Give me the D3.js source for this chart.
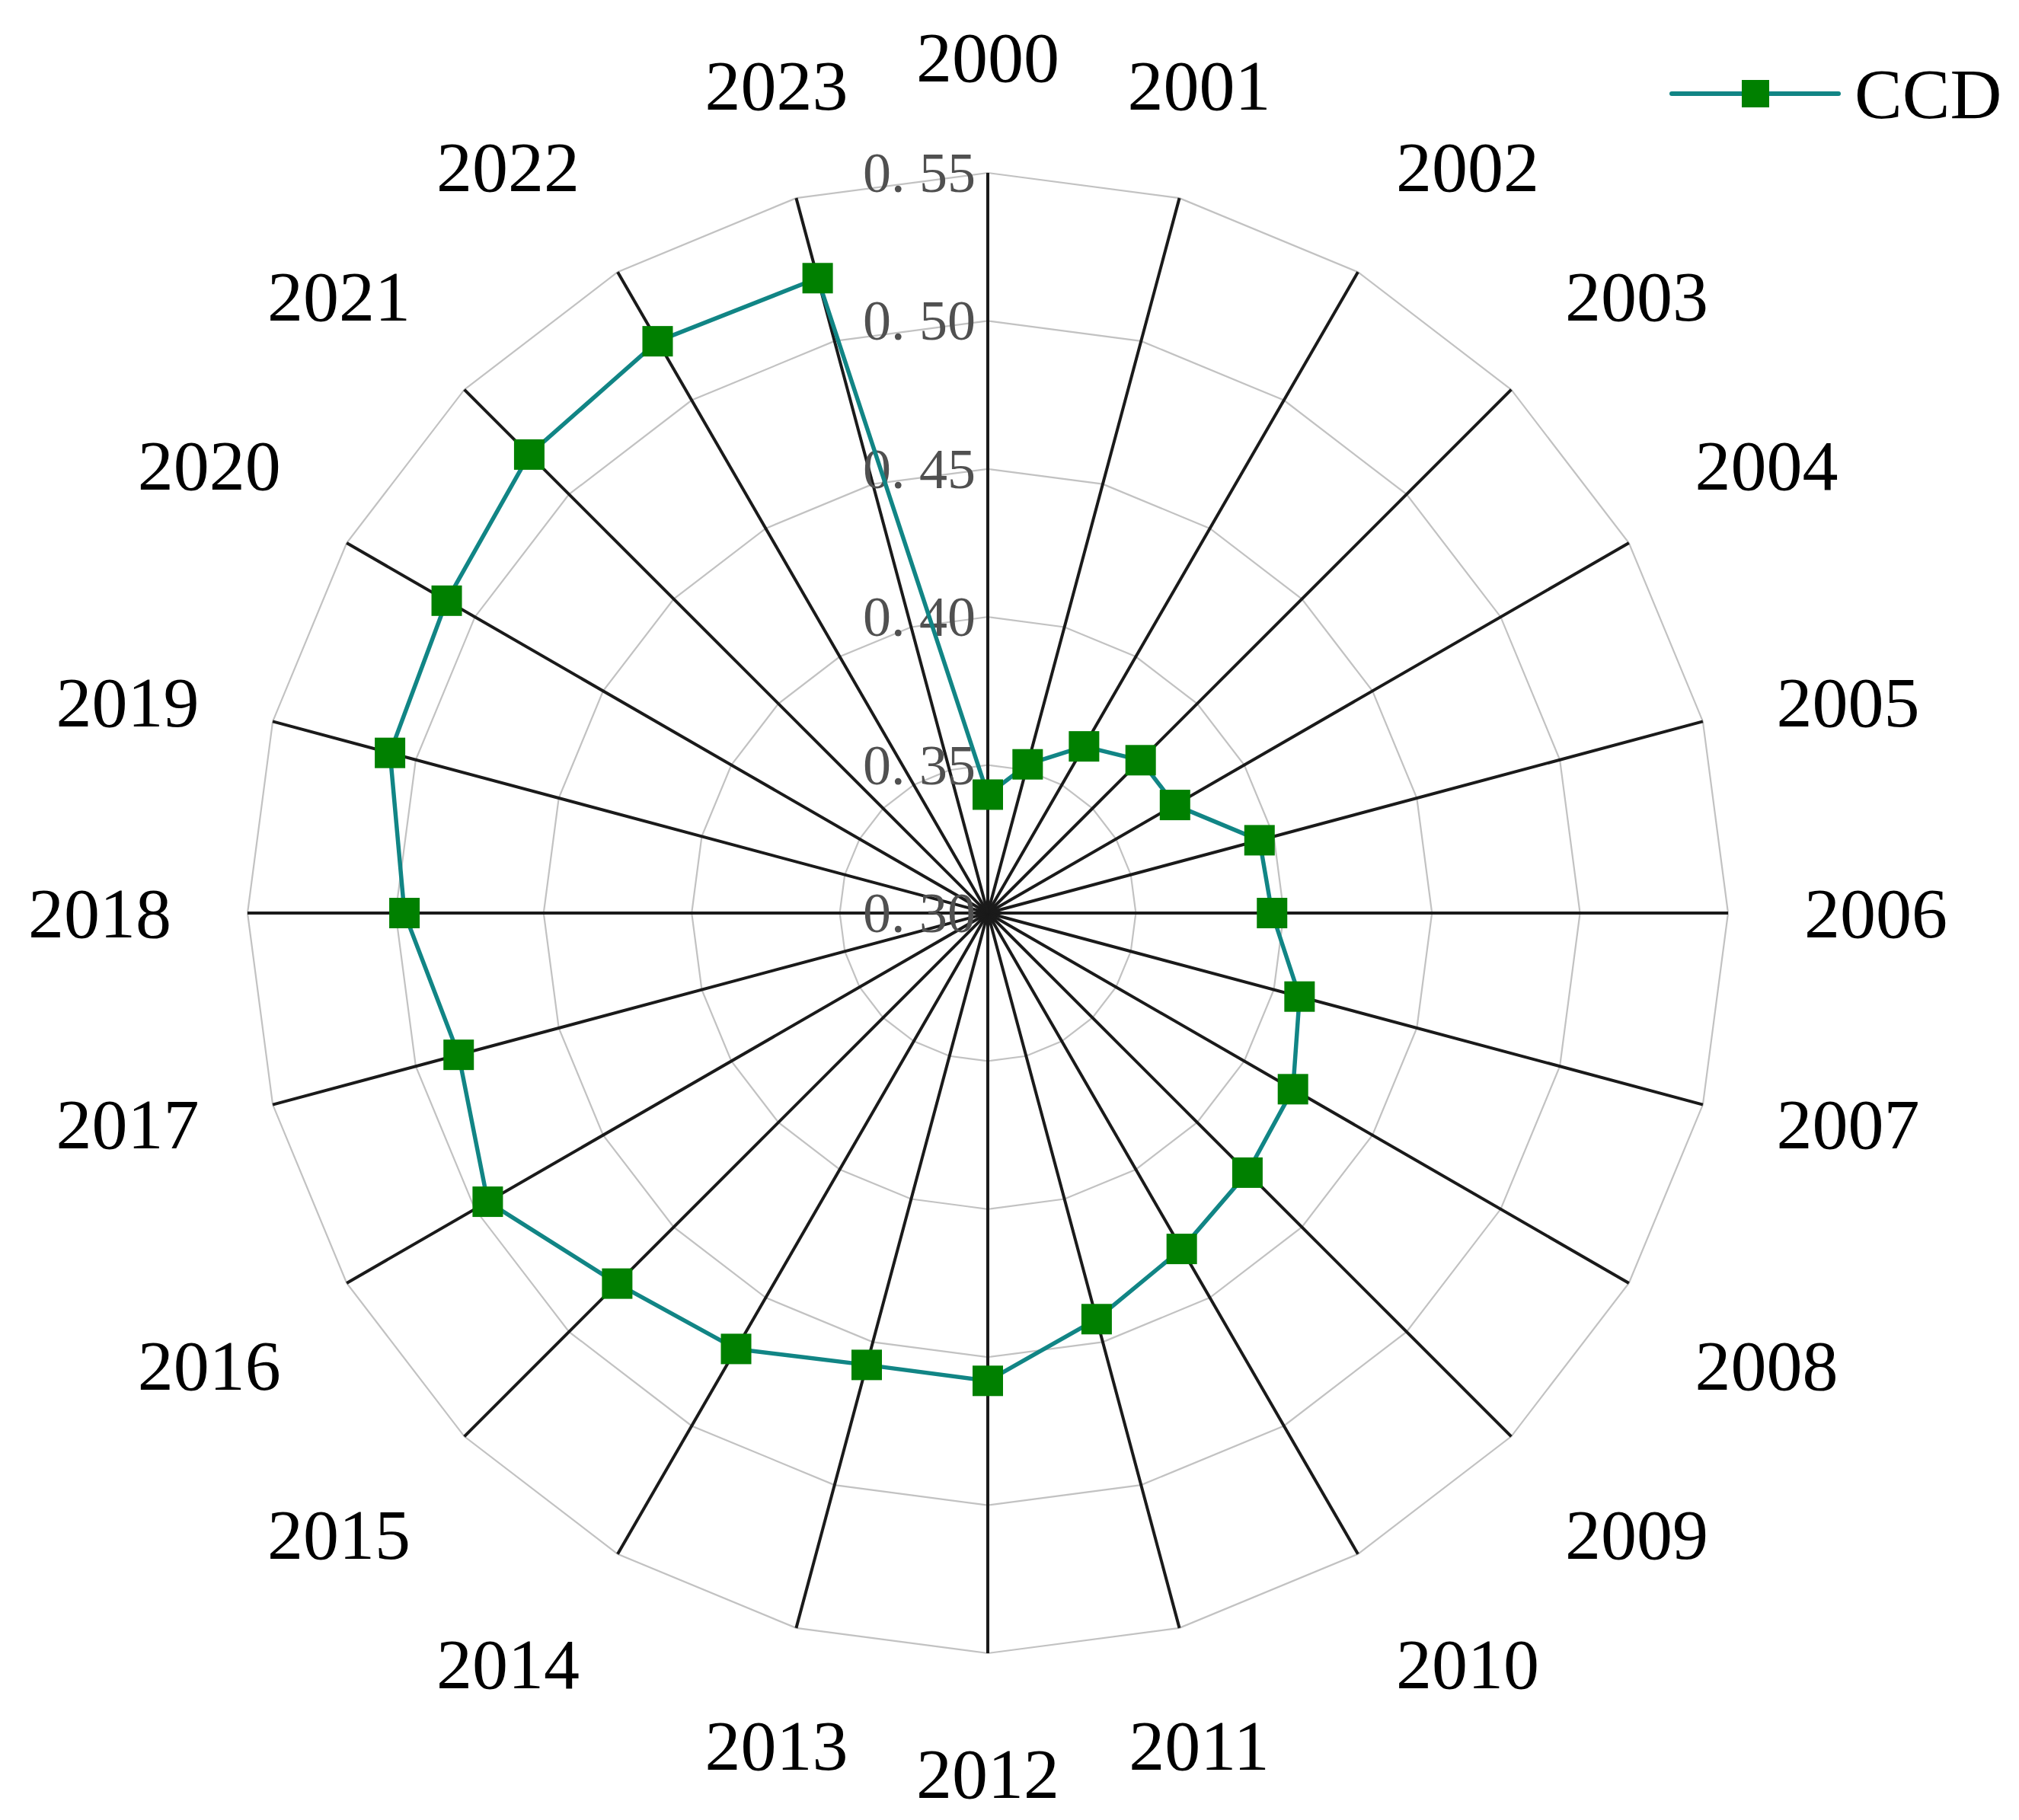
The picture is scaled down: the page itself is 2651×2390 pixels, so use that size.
<!DOCTYPE html>
<html>
<head>
<meta charset="utf-8">
<script src="https://cdn.jsdelivr.net/npm/d3@7"></script>
<style>
html,body{margin:0;padding:0;background:#fff;}
svg{display:block;}
</style>
</head>
<body>
<script>
const years = ["2000","2001","2002","2003","2004","2005","2006","2007","2008","2009","2010","2011","2012","2013","2014","2015","2016","2017","2018","2019","2020","2021","2022","2023"];
const ccd = [0.340,0.352,0.365,0.373,0.373,0.395,0.396,0.409,0.419,0.424,0.431,0.442,0.458,0.458,0.470,0.477,0.495,0.485,0.497,0.509,0.511,0.519,0.523,0.522];
const tickValues = [0.30,0.35,0.40,0.45,0.50,0.55];
const tickLabels = ["0. 30","0. 35","0. 40","0. 45","0. 50","0. 55"];
const seriesName = "CCD";

const W = 2651, H = 2390;
const cx = 1297, cy = 1199, R = 972;

const svg = d3.select("body").append("svg").attr("width", W).attr("height", H);
const g = svg.append("g").attr("transform", `translate(${cx},${cy})`);

const r = d3.scaleLinear().domain([0.30, 0.55]).range([0, R]);
const ang = d3.scaleLinear().domain([0, years.length]).range([0, 2*Math.PI]);
const px = (i, v) => r(v) * Math.sin(ang(i));
const py = (i, v) => -r(v) * Math.cos(ang(i));

// grid polygons
const gridLine = d3.lineRadial().angle((d,i)=>ang(i)).radius(d=>r(d)).curve(d3.curveLinearClosed);
tickValues.slice(1).forEach(t => {
  g.append("path").attr("d", gridLine(years.map(()=>t)))
    .attr("fill","none").attr("stroke","#c2c2c2").attr("stroke-width",2.2);
});

// spokes
g.selectAll("line.spoke").data(years).join("line").attr("class","spoke")
  .attr("x1",0).attr("y1",0)
  .attr("x2",(d,i)=>px(i,0.55)).attr("y2",(d,i)=>py(i,0.55))
  .attr("stroke","#1a1a1a").attr("stroke-width",4);

// tick labels
g.selectAll("text.tick").data(tickValues).join("text").attr("class","tick")
  .attr("x",-16).attr("y",d=>-r(d))
  .attr("text-anchor","end").attr("dominant-baseline","central")
  .attr("font-family","'Liberation Serif', serif").attr("font-size",74)
  .attr("fill","#505050").text((d,i)=>tickLabels[i]);

// series line
const line = d3.lineRadial().angle((d,i)=>ang(i)).radius(d=>r(d)).curve(d3.curveLinearClosed);
g.append("path").attr("d", line(ccd)).attr("fill","none")
  .attr("stroke","#118585").attr("stroke-width",5.5).attr("stroke-linejoin","round");

// markers
const ms = 40;
g.selectAll("rect.mk").data(ccd).join("rect").attr("class","mk")
  .attr("x",(d,i)=>px(i,d)-ms/2).attr("y",(d,i)=>py(i,d)-ms/2)
  .attr("width",ms).attr("height",ms).attr("fill","#008000");

// year labels: anchored at a circle outside the plot, aligned by direction
const fs = 94;
const Rl = 1072, halfH = 52;
function lx(i){ return Rl*Math.sin(ang(i)); }
function ly(i){
  const c = Math.cos(ang(i));
  if (c > 0.3) return -Rl*c - halfH;
  if (c < -0.3) return -Rl*c + halfH + 6;
  return -Rl*c;
}
function anchor(i){
  const s = Math.sin(ang(i));
  if (s > 0.3) return "start";
  if (s < -0.3) return "end";
  return "middle";
}
g.selectAll("text.yr").data(years).join("text").attr("class","yr")
  .attr("x",(d,i)=>lx(i))
  .attr("y",(d,i)=>ly(i))
  .attr("text-anchor",(d,i)=>anchor(i)).attr("dominant-baseline","central")
  .attr("font-family","'Liberation Serif', serif").attr("font-size",fs)
  .attr("fill","#000").text(d=>d);

// legend
const lg = svg.append("g").attr("transform","translate(2195,123)");
lg.append("line").attr("x1",0).attr("x2",219).attr("y1",0).attr("y2",0)
  .attr("stroke","#118585").attr("stroke-width",6).attr("stroke-linecap","round");
lg.append("rect").attr("x",110-18).attr("y",-18).attr("width",36).attr("height",36).attr("fill","#008000");
lg.append("text").attr("x",240).attr("y",0).attr("dominant-baseline","central")
  .attr("font-family","'Liberation Serif', serif").attr("font-size",fs).attr("fill","#000").text(seriesName);
</script>
</body>
</html>
